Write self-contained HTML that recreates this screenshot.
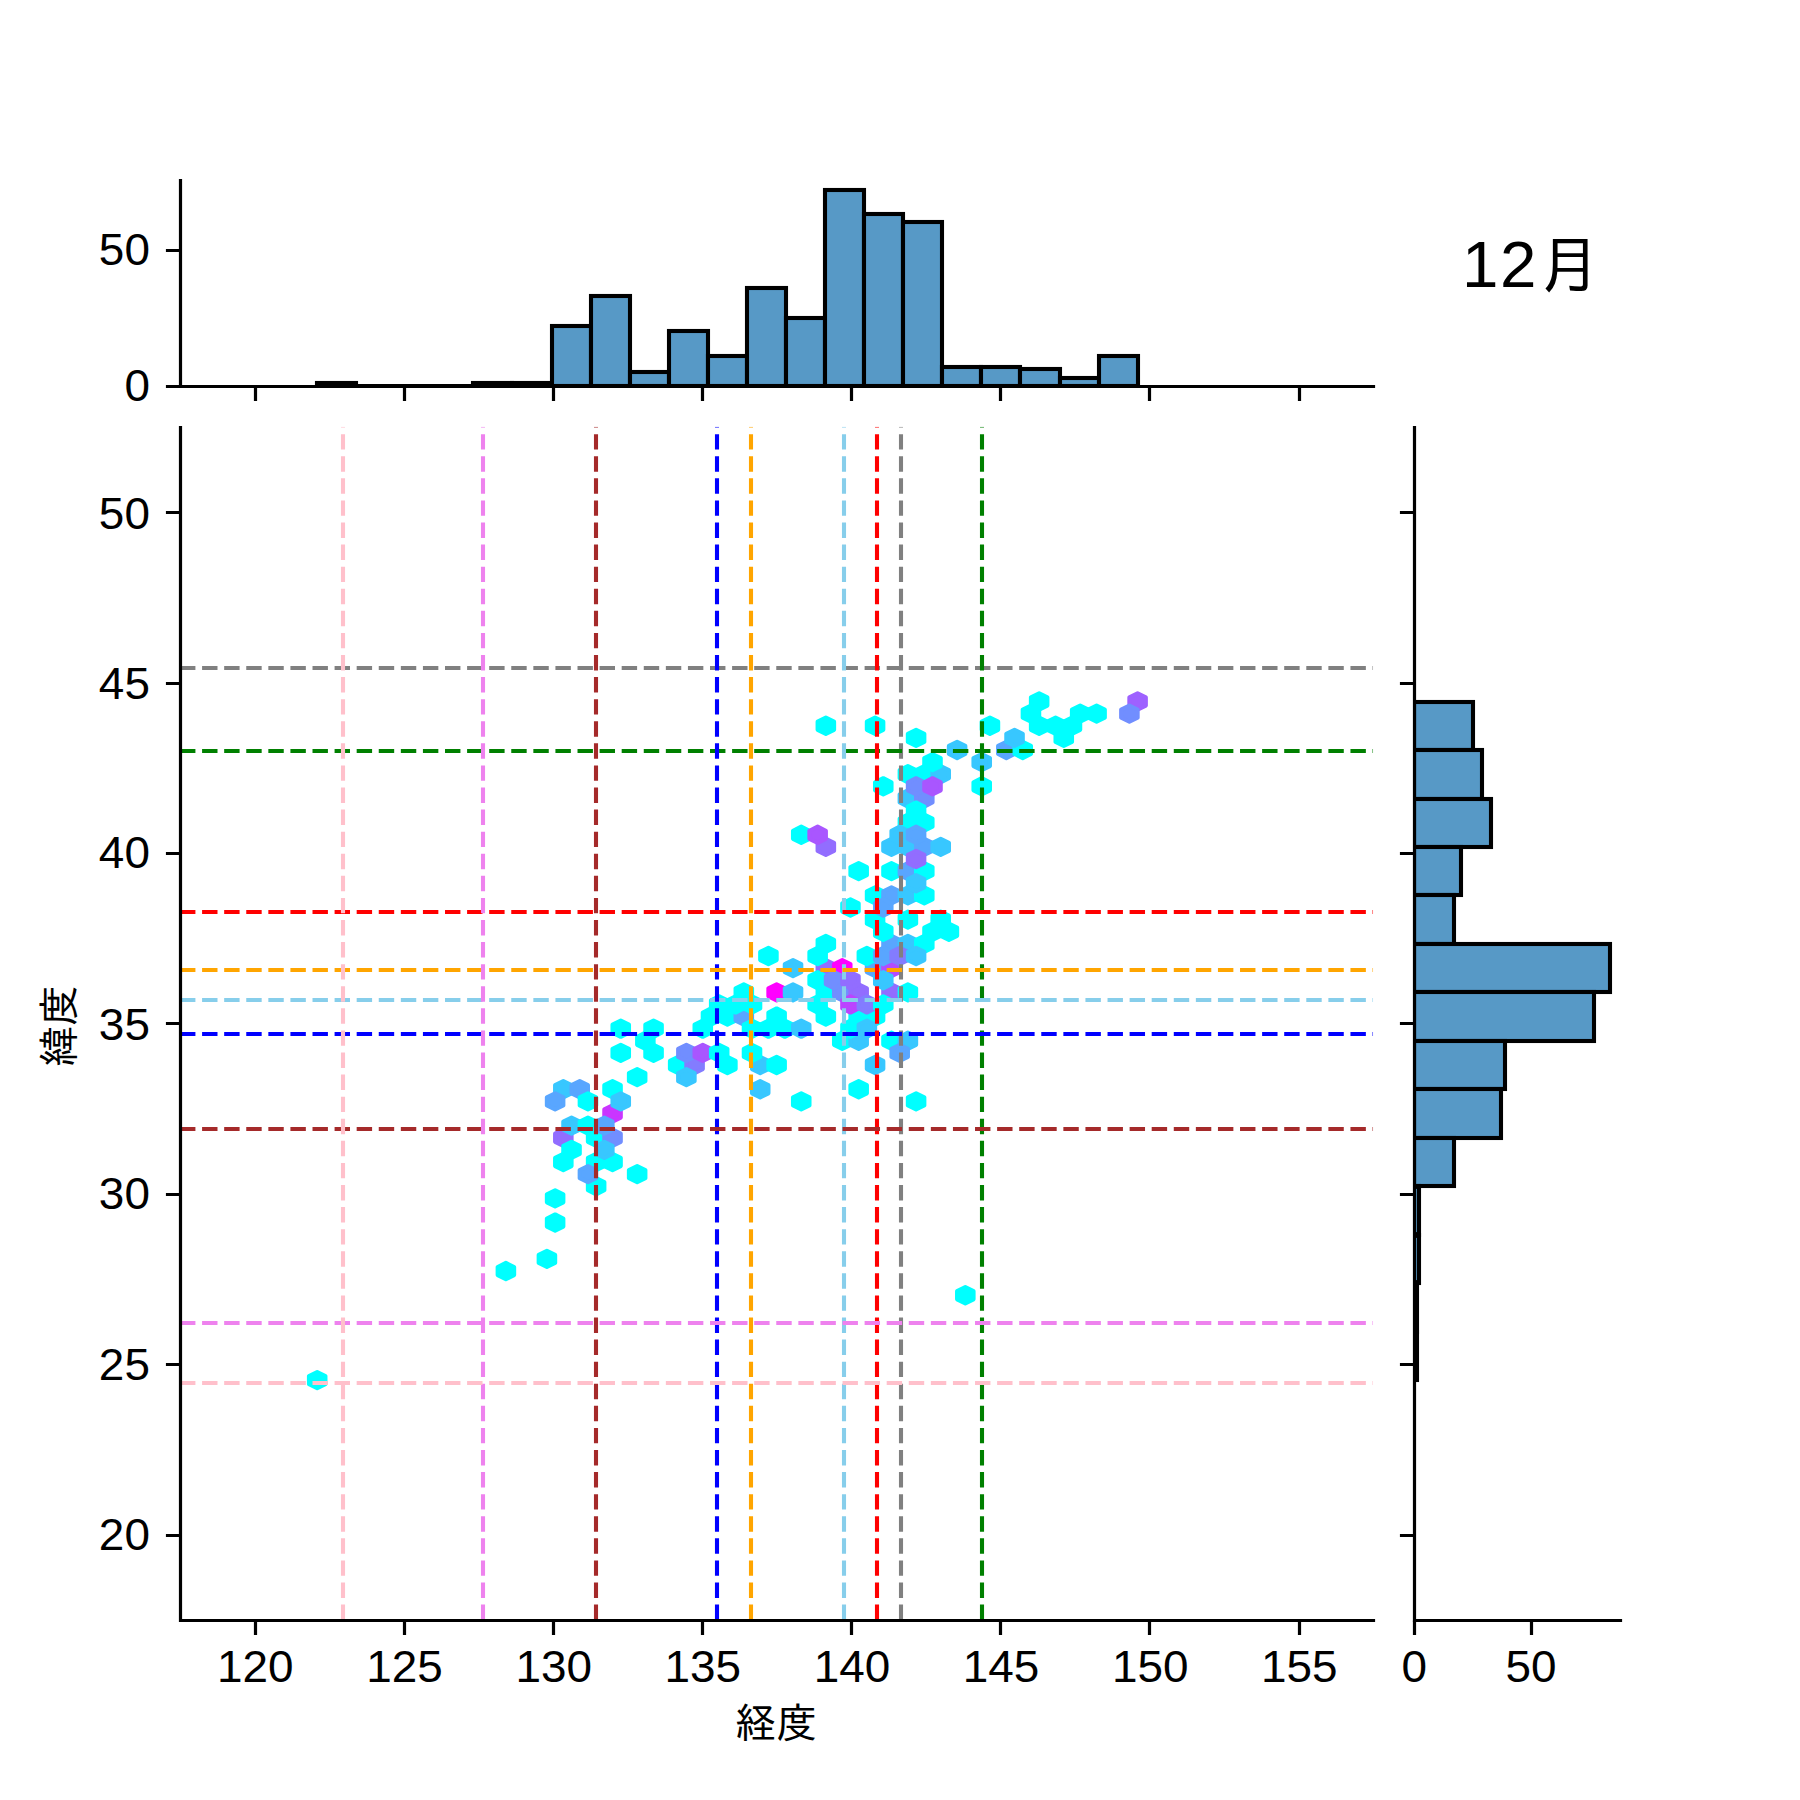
<!DOCTYPE html>
<html lang="ja"><head><meta charset="utf-8"><title>12月</title>
<style>html,body{margin:0;padding:0;background:#fff}svg{display:block}.n{font-family:"Liberation Sans",sans-serif;font-size:43.7px;fill:#000}.j{font-family:"Liberation Sans","IPAGothic","Noto Sans CJK JP",sans-serif;font-size:41.67px;fill:#000}.s{stroke:#000;stroke-width:3.200;fill:none;stroke-linecap:square}.t{stroke:#000;stroke-width:3.200;fill:none}.b{fill:#5799c6;stroke:#000;stroke-width:4.10;stroke-linejoin:miter}.d{stroke-width:4.100;stroke-dasharray:15.417 6.667;fill:none}.h{stroke-width:4.167;stroke-linejoin:round}</style></head><body>
<svg width="1800" height="1800" viewBox="0 0 1800 1800">
<rect width="1800" height="1800" fill="#fff"/>
<g class="h" clip-path="url(#cj)">
<path d="M325.40 1376.06L325.40 1384.14L317.20 1388.18L309.00 1384.14L309.00 1376.06L317.20 1372.02Z" fill="#00ffff" stroke="#00ffff"/>
<path d="M555.12 1254.88L555.12 1262.96L546.91 1267.00L538.71 1262.96L538.71 1254.88L546.91 1250.84Z" fill="#00ffff" stroke="#00ffff"/>
<path d="M571.52 1157.94L571.52 1166.02L563.32 1170.05L555.12 1166.02L555.12 1157.94L563.32 1153.90Z" fill="#00ffff" stroke="#00ffff"/>
<path d="M571.52 1133.70L571.52 1141.78L563.32 1145.82L555.12 1141.78L555.12 1133.70L563.32 1129.66Z" fill="#926dff" stroke="#926dff"/>
<path d="M571.52 1085.23L571.52 1093.31L563.32 1097.35L555.12 1093.31L555.12 1085.23L563.32 1081.19Z" fill="#38c7ff" stroke="#38c7ff"/>
<path d="M587.93 1085.23L587.93 1093.31L579.73 1097.35L571.52 1093.31L571.52 1085.23L579.73 1081.19Z" fill="#59a6ff" stroke="#59a6ff"/>
<path d="M604.34 1182.17L604.34 1190.25L596.14 1194.29L587.93 1190.25L587.93 1182.17L596.14 1178.13Z" fill="#00ffff" stroke="#00ffff"/>
<path d="M604.34 1157.94L604.34 1166.02L596.14 1170.05L587.93 1166.02L587.93 1157.94L596.14 1153.90Z" fill="#00ffff" stroke="#00ffff"/>
<path d="M604.34 1133.70L604.34 1141.78L596.14 1145.82L587.93 1141.78L587.93 1133.70L596.14 1129.66Z" fill="#00ffff" stroke="#00ffff"/>
<path d="M620.75 1157.94L620.75 1166.02L612.54 1170.05L604.34 1166.02L604.34 1157.94L612.54 1153.90Z" fill="#00ffff" stroke="#00ffff"/>
<path d="M620.75 1133.70L620.75 1141.78L612.54 1145.82L604.34 1141.78L604.34 1133.70L612.54 1129.66Z" fill="#718eff" stroke="#718eff"/>
<path d="M620.75 1109.46L620.75 1117.54L612.54 1121.58L604.34 1117.54L604.34 1109.46L612.54 1105.43Z" fill="#ca35ff" stroke="#ca35ff"/>
<path d="M620.75 1085.23L620.75 1093.31L612.54 1097.35L604.34 1093.31L604.34 1085.23L612.54 1081.19Z" fill="#00ffff" stroke="#00ffff"/>
<path d="M653.56 1036.76L653.56 1044.84L645.36 1048.87L637.16 1044.84L637.16 1036.76L645.36 1032.72Z" fill="#00ffff" stroke="#00ffff"/>
<path d="M686.38 1060.99L686.38 1069.07L678.18 1073.11L669.97 1069.07L669.97 1060.99L678.18 1056.95Z" fill="#00ffff" stroke="#00ffff"/>
<path d="M702.79 1060.99L702.79 1069.07L694.58 1073.11L686.38 1069.07L686.38 1060.99L694.58 1056.95Z" fill="#837cff" stroke="#837cff"/>
<path d="M719.20 1012.52L719.20 1020.60L710.99 1024.64L702.79 1020.60L702.79 1012.52L710.99 1008.48Z" fill="#00ffff" stroke="#00ffff"/>
<path d="M735.60 1060.99L735.60 1069.07L727.40 1073.11L719.20 1069.07L719.20 1060.99L727.40 1056.95Z" fill="#00ffff" stroke="#00ffff"/>
<path d="M735.60 1012.52L735.60 1020.60L727.40 1024.64L719.20 1020.60L719.20 1012.52L727.40 1008.48Z" fill="#00ffff" stroke="#00ffff"/>
<path d="M752.01 1012.52L752.01 1020.60L743.81 1024.64L735.60 1020.60L735.60 1012.52L743.81 1008.48Z" fill="#59a6ff" stroke="#59a6ff"/>
<path d="M752.01 988.28L752.01 996.36L743.81 1000.40L735.60 996.36L735.60 988.28L743.81 984.25Z" fill="#00ffff" stroke="#00ffff"/>
<path d="M768.42 1085.23L768.42 1093.31L760.22 1097.35L752.01 1093.31L752.01 1085.23L760.22 1081.19Z" fill="#38c7ff" stroke="#38c7ff"/>
<path d="M768.42 1060.99L768.42 1069.07L760.22 1073.11L752.01 1069.07L752.01 1060.99L760.22 1056.95Z" fill="#38c7ff" stroke="#38c7ff"/>
<path d="M784.83 1060.99L784.83 1069.07L776.62 1073.11L768.42 1069.07L768.42 1060.99L776.62 1056.95Z" fill="#00ffff" stroke="#00ffff"/>
<path d="M784.83 1012.52L784.83 1020.60L776.62 1024.64L768.42 1020.60L768.42 1012.52L776.62 1008.48Z" fill="#00ffff" stroke="#00ffff"/>
<path d="M784.83 988.28L784.83 996.36L776.62 1000.40L768.42 996.36L768.42 988.28L776.62 984.25Z" fill="#ff00ff" stroke="#ff00ff"/>
<path d="M801.24 988.28L801.24 996.36L793.03 1000.40L784.83 996.36L784.83 988.28L793.03 984.25Z" fill="#38c7ff" stroke="#38c7ff"/>
<path d="M801.24 964.05L801.24 972.13L793.03 976.17L784.83 972.13L784.83 964.05L793.03 960.01Z" fill="#38c7ff" stroke="#38c7ff"/>
<path d="M834.05 1012.52L834.05 1020.60L825.85 1024.64L817.64 1020.60L817.64 1012.52L825.85 1008.48Z" fill="#00ffff" stroke="#00ffff"/>
<path d="M834.05 988.28L834.05 996.36L825.85 1000.40L817.64 996.36L817.64 988.28L825.85 984.25Z" fill="#00ffff" stroke="#00ffff"/>
<path d="M834.05 964.05L834.05 972.13L825.85 976.17L817.64 972.13L817.64 964.05L825.85 960.01Z" fill="#926dff" stroke="#926dff"/>
<path d="M834.05 939.81L834.05 947.89L825.85 951.93L817.64 947.89L817.64 939.81L825.85 935.77Z" fill="#00ffff" stroke="#00ffff"/>
<path d="M834.05 842.87L834.05 850.95L825.85 854.99L817.64 850.95L817.64 842.87L825.85 838.83Z" fill="#926dff" stroke="#926dff"/>
<path d="M834.05 721.69L834.05 729.77L825.85 733.81L817.64 729.77L817.64 721.69L825.85 717.65Z" fill="#00ffff" stroke="#00ffff"/>
<path d="M850.46 1036.76L850.46 1044.84L842.26 1048.87L834.05 1044.84L834.05 1036.76L842.26 1032.72Z" fill="#00ffff" stroke="#00ffff"/>
<path d="M850.46 988.28L850.46 996.36L842.26 1000.40L834.05 996.36L834.05 988.28L842.26 984.25Z" fill="#718eff" stroke="#718eff"/>
<path d="M850.46 964.05L850.46 972.13L842.26 976.17L834.05 972.13L834.05 964.05L842.26 960.01Z" fill="#ff00ff" stroke="#ff00ff"/>
<path d="M866.87 1085.23L866.87 1093.31L858.66 1097.35L850.46 1093.31L850.46 1085.23L858.66 1081.19Z" fill="#00ffff" stroke="#00ffff"/>
<path d="M866.87 1036.76L866.87 1044.84L858.66 1048.87L850.46 1044.84L850.46 1036.76L858.66 1032.72Z" fill="#38c7ff" stroke="#38c7ff"/>
<path d="M866.87 1012.52L866.87 1020.60L858.66 1024.64L850.46 1020.60L850.46 1012.52L858.66 1008.48Z" fill="#00ffff" stroke="#00ffff"/>
<path d="M866.87 988.28L866.87 996.36L858.66 1000.40L850.46 996.36L850.46 988.28L858.66 984.25Z" fill="#926dff" stroke="#926dff"/>
<path d="M866.87 867.10L866.87 875.18L858.66 879.22L850.46 875.18L850.46 867.10L858.66 863.07Z" fill="#00ffff" stroke="#00ffff"/>
<path d="M883.28 1060.99L883.28 1069.07L875.07 1073.11L866.87 1069.07L866.87 1060.99L875.07 1056.95Z" fill="#38c7ff" stroke="#38c7ff"/>
<path d="M883.28 1012.52L883.28 1020.60L875.07 1024.64L866.87 1020.60L866.87 1012.52L875.07 1008.48Z" fill="#00ffff" stroke="#00ffff"/>
<path d="M883.28 964.05L883.28 972.13L875.07 976.17L866.87 972.13L866.87 964.05L875.07 960.01Z" fill="#59a6ff" stroke="#59a6ff"/>
<path d="M883.28 915.58L883.28 923.66L875.07 927.69L866.87 923.66L866.87 915.58L875.07 911.54Z" fill="#00ffff" stroke="#00ffff"/>
<path d="M883.28 891.34L883.28 899.42L875.07 903.46L866.87 899.42L866.87 891.34L875.07 887.30Z" fill="#00ffff" stroke="#00ffff"/>
<path d="M883.28 721.69L883.28 729.77L875.07 733.81L866.87 729.77L866.87 721.69L875.07 717.65Z" fill="#00ffff" stroke="#00ffff"/>
<path d="M899.68 1036.76L899.68 1044.84L891.48 1048.87L883.28 1044.84L883.28 1036.76L891.48 1032.72Z" fill="#00ffff" stroke="#00ffff"/>
<path d="M899.68 988.28L899.68 996.36L891.48 1000.40L883.28 996.36L883.28 988.28L891.48 984.25Z" fill="#926dff" stroke="#926dff"/>
<path d="M899.68 964.05L899.68 972.13L891.48 976.17L883.28 972.13L883.28 964.05L891.48 960.01Z" fill="#b34cff" stroke="#b34cff"/>
<path d="M899.68 939.81L899.68 947.89L891.48 951.93L883.28 947.89L883.28 939.81L891.48 935.77Z" fill="#59a6ff" stroke="#59a6ff"/>
<path d="M899.68 891.34L899.68 899.42L891.48 903.46L883.28 899.42L883.28 891.34L891.48 887.30Z" fill="#59a6ff" stroke="#59a6ff"/>
<path d="M899.68 867.10L899.68 875.18L891.48 879.22L883.28 875.18L883.28 867.10L891.48 863.07Z" fill="#00ffff" stroke="#00ffff"/>
<path d="M899.68 842.87L899.68 850.95L891.48 854.99L883.28 850.95L883.28 842.87L891.48 838.83Z" fill="#38c7ff" stroke="#38c7ff"/>
<path d="M916.09 1036.76L916.09 1044.84L907.89 1048.87L899.68 1044.84L899.68 1036.76L907.89 1032.72Z" fill="#38c7ff" stroke="#38c7ff"/>
<path d="M916.09 988.28L916.09 996.36L907.89 1000.40L899.68 996.36L899.68 988.28L907.89 984.25Z" fill="#00ffff" stroke="#00ffff"/>
<path d="M916.09 939.81L916.09 947.89L907.89 951.93L899.68 947.89L899.68 939.81L907.89 935.77Z" fill="#38c7ff" stroke="#38c7ff"/>
<path d="M916.09 915.58L916.09 923.66L907.89 927.69L899.68 923.66L899.68 915.58L907.89 911.54Z" fill="#00ffff" stroke="#00ffff"/>
<path d="M916.09 891.34L916.09 899.42L907.89 903.46L899.68 899.42L899.68 891.34L907.89 887.30Z" fill="#38c7ff" stroke="#38c7ff"/>
<path d="M916.09 867.10L916.09 875.18L907.89 879.22L899.68 875.18L899.68 867.10L907.89 863.07Z" fill="#59a6ff" stroke="#59a6ff"/>
<path d="M916.09 842.87L916.09 850.95L907.89 854.99L899.68 850.95L899.68 842.87L907.89 838.83Z" fill="#38c7ff" stroke="#38c7ff"/>
<path d="M916.09 818.63L916.09 826.71L907.89 830.75L899.68 826.71L899.68 818.63L907.89 814.59Z" fill="#00ffff" stroke="#00ffff"/>
<path d="M916.09 794.40L916.09 802.48L907.89 806.51L899.68 802.48L899.68 794.40L907.89 790.36Z" fill="#38c7ff" stroke="#38c7ff"/>
<path d="M916.09 770.16L916.09 778.24L907.89 782.28L899.68 778.24L899.68 770.16L907.89 766.12Z" fill="#00ffff" stroke="#00ffff"/>
<path d="M932.50 939.81L932.50 947.89L924.30 951.93L916.09 947.89L916.09 939.81L924.30 935.77Z" fill="#00ffff" stroke="#00ffff"/>
<path d="M932.50 891.34L932.50 899.42L924.30 903.46L916.09 899.42L916.09 891.34L924.30 887.30Z" fill="#00ffff" stroke="#00ffff"/>
<path d="M932.50 867.10L932.50 875.18L924.30 879.22L916.09 875.18L916.09 867.10L924.30 863.07Z" fill="#00ffff" stroke="#00ffff"/>
<path d="M932.50 842.87L932.50 850.95L924.30 854.99L916.09 850.95L916.09 842.87L924.30 838.83Z" fill="#59a6ff" stroke="#59a6ff"/>
<path d="M932.50 818.63L932.50 826.71L924.30 830.75L916.09 826.71L916.09 818.63L924.30 814.59Z" fill="#00ffff" stroke="#00ffff"/>
<path d="M932.50 794.40L932.50 802.48L924.30 806.51L916.09 802.48L916.09 794.40L924.30 790.36Z" fill="#718eff" stroke="#718eff"/>
<path d="M932.50 770.16L932.50 778.24L924.30 782.28L916.09 778.24L916.09 770.16L924.30 766.12Z" fill="#00ffff" stroke="#00ffff"/>
<path d="M948.91 915.58L948.91 923.66L940.70 927.69L932.50 923.66L932.50 915.58L940.70 911.54Z" fill="#00ffff" stroke="#00ffff"/>
<path d="M948.91 842.87L948.91 850.95L940.70 854.99L932.50 850.95L932.50 842.87L940.70 838.83Z" fill="#38c7ff" stroke="#38c7ff"/>
<path d="M948.91 770.16L948.91 778.24L940.70 782.28L932.50 778.24L932.50 770.16L940.70 766.12Z" fill="#38c7ff" stroke="#38c7ff"/>
<path d="M965.32 745.92L965.32 754.00L957.11 758.04L948.91 754.00L948.91 745.92L957.11 741.89Z" fill="#38c7ff" stroke="#38c7ff"/>
<path d="M998.13 721.69L998.13 729.77L989.93 733.81L981.72 729.77L981.72 721.69L989.93 717.65Z" fill="#00ffff" stroke="#00ffff"/>
<path d="M1014.54 745.92L1014.54 754.00L1006.34 758.04L998.13 754.00L998.13 745.92L1006.34 741.89Z" fill="#59a6ff" stroke="#59a6ff"/>
<path d="M1030.95 745.92L1030.95 754.00L1022.74 758.04L1014.54 754.00L1014.54 745.92L1022.74 741.89Z" fill="#00ffff" stroke="#00ffff"/>
<path d="M1047.36 721.69L1047.36 729.77L1039.15 733.81L1030.95 729.77L1030.95 721.69L1039.15 717.65Z" fill="#00ffff" stroke="#00ffff"/>
<path d="M1047.36 697.45L1047.36 705.53L1039.15 709.57L1030.95 705.53L1030.95 697.45L1039.15 693.41Z" fill="#00ffff" stroke="#00ffff"/>
<path d="M1063.76 721.69L1063.76 729.77L1055.56 733.81L1047.36 729.77L1047.36 721.69L1055.56 717.65Z" fill="#00ffff" stroke="#00ffff"/>
<path d="M1080.17 721.69L1080.17 729.77L1071.97 733.81L1063.76 729.77L1063.76 721.69L1071.97 717.65Z" fill="#00ffff" stroke="#00ffff"/>
<path d="M1145.80 697.45L1145.80 705.53L1137.60 709.57L1129.40 705.53L1129.40 697.45L1137.60 693.41Z" fill="#9e61ff" stroke="#9e61ff"/>
<path d="M514.10 1267.00L514.10 1275.08L505.89 1279.12L497.69 1275.08L497.69 1267.00L505.89 1262.96Z" fill="#00ffff" stroke="#00ffff"/>
<path d="M563.32 1218.53L563.32 1226.61L555.12 1230.64L546.91 1226.61L546.91 1218.53L555.12 1214.49Z" fill="#00ffff" stroke="#00ffff"/>
<path d="M563.32 1194.29L563.32 1202.37L555.12 1206.41L546.91 1202.37L546.91 1194.29L555.12 1190.25Z" fill="#00ffff" stroke="#00ffff"/>
<path d="M563.32 1097.35L563.32 1105.43L555.12 1109.46L546.91 1105.43L546.91 1097.35L555.12 1093.31Z" fill="#59a6ff" stroke="#59a6ff"/>
<path d="M579.73 1145.82L579.73 1153.90L571.52 1157.94L563.32 1153.90L563.32 1145.82L571.52 1141.78Z" fill="#00ffff" stroke="#00ffff"/>
<path d="M579.73 1121.58L579.73 1129.66L571.52 1133.70L563.32 1129.66L563.32 1121.58L571.52 1117.54Z" fill="#38c7ff" stroke="#38c7ff"/>
<path d="M596.14 1170.05L596.14 1178.13L587.93 1182.17L579.73 1178.13L579.73 1170.05L587.93 1166.02Z" fill="#59a6ff" stroke="#59a6ff"/>
<path d="M596.14 1121.58L596.14 1129.66L587.93 1133.70L579.73 1129.66L579.73 1121.58L587.93 1117.54Z" fill="#00ffff" stroke="#00ffff"/>
<path d="M596.14 1097.35L596.14 1105.43L587.93 1109.46L579.73 1105.43L579.73 1097.35L587.93 1093.31Z" fill="#00ffff" stroke="#00ffff"/>
<path d="M612.54 1145.82L612.54 1153.90L604.34 1157.94L596.14 1153.90L596.14 1145.82L604.34 1141.78Z" fill="#38c7ff" stroke="#38c7ff"/>
<path d="M612.54 1121.58L612.54 1129.66L604.34 1133.70L596.14 1129.66L596.14 1121.58L604.34 1117.54Z" fill="#59a6ff" stroke="#59a6ff"/>
<path d="M628.95 1097.35L628.95 1105.43L620.75 1109.46L612.54 1105.43L612.54 1097.35L620.75 1093.31Z" fill="#38c7ff" stroke="#38c7ff"/>
<path d="M628.95 1048.87L628.95 1056.95L620.75 1060.99L612.54 1056.95L612.54 1048.87L620.75 1044.84Z" fill="#00ffff" stroke="#00ffff"/>
<path d="M628.95 1024.64L628.95 1032.72L620.75 1036.76L612.54 1032.72L612.54 1024.64L620.75 1020.60Z" fill="#00ffff" stroke="#00ffff"/>
<path d="M645.36 1170.05L645.36 1178.13L637.16 1182.17L628.95 1178.13L628.95 1170.05L637.16 1166.02Z" fill="#00ffff" stroke="#00ffff"/>
<path d="M645.36 1073.11L645.36 1081.19L637.16 1085.23L628.95 1081.19L628.95 1073.11L637.16 1069.07Z" fill="#00ffff" stroke="#00ffff"/>
<path d="M661.77 1048.87L661.77 1056.95L653.56 1060.99L645.36 1056.95L645.36 1048.87L653.56 1044.84Z" fill="#00ffff" stroke="#00ffff"/>
<path d="M661.77 1024.64L661.77 1032.72L653.56 1036.76L645.36 1032.72L645.36 1024.64L653.56 1020.60Z" fill="#00ffff" stroke="#00ffff"/>
<path d="M694.58 1073.11L694.58 1081.19L686.38 1085.23L678.18 1081.19L678.18 1073.11L686.38 1069.07Z" fill="#38c7ff" stroke="#38c7ff"/>
<path d="M694.58 1048.87L694.58 1056.95L686.38 1060.99L678.18 1056.95L678.18 1048.87L686.38 1044.84Z" fill="#718eff" stroke="#718eff"/>
<path d="M710.99 1048.87L710.99 1056.95L702.79 1060.99L694.58 1056.95L694.58 1048.87L702.79 1044.84Z" fill="#a956ff" stroke="#a956ff"/>
<path d="M710.99 1024.64L710.99 1032.72L702.79 1036.76L694.58 1032.72L694.58 1024.64L702.79 1020.60Z" fill="#00ffff" stroke="#00ffff"/>
<path d="M727.40 1048.87L727.40 1056.95L719.20 1060.99L710.99 1056.95L710.99 1048.87L719.20 1044.84Z" fill="#00ffff" stroke="#00ffff"/>
<path d="M727.40 1000.40L727.40 1008.48L719.20 1012.52L710.99 1008.48L710.99 1000.40L719.20 996.36Z" fill="#00ffff" stroke="#00ffff"/>
<path d="M743.81 1000.40L743.81 1008.48L735.60 1012.52L727.40 1008.48L727.40 1000.40L735.60 996.36Z" fill="#00ffff" stroke="#00ffff"/>
<path d="M760.22 1048.87L760.22 1056.95L752.01 1060.99L743.81 1056.95L743.81 1048.87L752.01 1044.84Z" fill="#00ffff" stroke="#00ffff"/>
<path d="M760.22 1024.64L760.22 1032.72L752.01 1036.76L743.81 1032.72L743.81 1024.64L752.01 1020.60Z" fill="#00ffff" stroke="#00ffff"/>
<path d="M760.22 1000.40L760.22 1008.48L752.01 1012.52L743.81 1008.48L743.81 1000.40L752.01 996.36Z" fill="#00ffff" stroke="#00ffff"/>
<path d="M776.62 1024.64L776.62 1032.72L768.42 1036.76L760.22 1032.72L760.22 1024.64L768.42 1020.60Z" fill="#00ffff" stroke="#00ffff"/>
<path d="M776.62 951.93L776.62 960.01L768.42 964.05L760.22 960.01L760.22 951.93L768.42 947.89Z" fill="#00ffff" stroke="#00ffff"/>
<path d="M793.03 1024.64L793.03 1032.72L784.83 1036.76L776.62 1032.72L776.62 1024.64L784.83 1020.60Z" fill="#00ffff" stroke="#00ffff"/>
<path d="M809.44 1097.35L809.44 1105.43L801.24 1109.46L793.03 1105.43L793.03 1097.35L801.24 1093.31Z" fill="#00ffff" stroke="#00ffff"/>
<path d="M809.44 1024.64L809.44 1032.72L801.24 1036.76L793.03 1032.72L793.03 1024.64L801.24 1020.60Z" fill="#38c7ff" stroke="#38c7ff"/>
<path d="M809.44 830.75L809.44 838.83L801.24 842.87L793.03 838.83L793.03 830.75L801.24 826.71Z" fill="#00ffff" stroke="#00ffff"/>
<path d="M825.85 1000.40L825.85 1008.48L817.64 1012.52L809.44 1008.48L809.44 1000.40L817.64 996.36Z" fill="#00ffff" stroke="#00ffff"/>
<path d="M825.85 976.17L825.85 984.25L817.64 988.28L809.44 984.25L809.44 976.17L817.64 972.13Z" fill="#00ffff" stroke="#00ffff"/>
<path d="M825.85 951.93L825.85 960.01L817.64 964.05L809.44 960.01L809.44 951.93L817.64 947.89Z" fill="#00ffff" stroke="#00ffff"/>
<path d="M825.85 830.75L825.85 838.83L817.64 842.87L809.44 838.83L809.44 830.75L817.64 826.71Z" fill="#a956ff" stroke="#a956ff"/>
<path d="M842.26 976.17L842.26 984.25L834.05 988.28L825.85 984.25L825.85 976.17L834.05 972.13Z" fill="#718eff" stroke="#718eff"/>
<path d="M858.66 1024.64L858.66 1032.72L850.46 1036.76L842.26 1032.72L842.26 1024.64L850.46 1020.60Z" fill="#00ffff" stroke="#00ffff"/>
<path d="M858.66 1000.40L858.66 1008.48L850.46 1012.52L842.26 1008.48L842.26 1000.40L850.46 996.36Z" fill="#bb44ff" stroke="#bb44ff"/>
<path d="M858.66 976.17L858.66 984.25L850.46 988.28L842.26 984.25L842.26 976.17L850.46 972.13Z" fill="#926dff" stroke="#926dff"/>
<path d="M858.66 903.46L858.66 911.54L850.46 915.58L842.26 911.54L842.26 903.46L850.46 899.42Z" fill="#00ffff" stroke="#00ffff"/>
<path d="M875.07 1024.64L875.07 1032.72L866.87 1036.76L858.66 1032.72L858.66 1024.64L866.87 1020.60Z" fill="#38c7ff" stroke="#38c7ff"/>
<path d="M875.07 1000.40L875.07 1008.48L866.87 1012.52L858.66 1008.48L858.66 1000.40L866.87 996.36Z" fill="#837cff" stroke="#837cff"/>
<path d="M875.07 951.93L875.07 960.01L866.87 964.05L858.66 960.01L858.66 951.93L866.87 947.89Z" fill="#00ffff" stroke="#00ffff"/>
<path d="M891.48 1000.40L891.48 1008.48L883.28 1012.52L875.07 1008.48L875.07 1000.40L883.28 996.36Z" fill="#00ffff" stroke="#00ffff"/>
<path d="M891.48 976.17L891.48 984.25L883.28 988.28L875.07 984.25L875.07 976.17L883.28 972.13Z" fill="#38c7ff" stroke="#38c7ff"/>
<path d="M891.48 951.93L891.48 960.01L883.28 964.05L875.07 960.01L875.07 951.93L883.28 947.89Z" fill="#59a6ff" stroke="#59a6ff"/>
<path d="M891.48 927.69L891.48 935.77L883.28 939.81L875.07 935.77L875.07 927.69L883.28 923.66Z" fill="#00ffff" stroke="#00ffff"/>
<path d="M891.48 903.46L891.48 911.54L883.28 915.58L875.07 911.54L875.07 903.46L883.28 899.42Z" fill="#59a6ff" stroke="#59a6ff"/>
<path d="M891.48 782.28L891.48 790.36L883.28 794.40L875.07 790.36L875.07 782.28L883.28 778.24Z" fill="#00ffff" stroke="#00ffff"/>
<path d="M907.89 1048.87L907.89 1056.95L899.68 1060.99L891.48 1056.95L891.48 1048.87L899.68 1044.84Z" fill="#59a6ff" stroke="#59a6ff"/>
<path d="M907.89 951.93L907.89 960.01L899.68 964.05L891.48 960.01L891.48 951.93L899.68 947.89Z" fill="#837cff" stroke="#837cff"/>
<path d="M907.89 830.75L907.89 838.83L899.68 842.87L891.48 838.83L891.48 830.75L899.68 826.71Z" fill="#38c7ff" stroke="#38c7ff"/>
<path d="M924.30 1097.35L924.30 1105.43L916.09 1109.46L907.89 1105.43L907.89 1097.35L916.09 1093.31Z" fill="#00ffff" stroke="#00ffff"/>
<path d="M924.30 951.93L924.30 960.01L916.09 964.05L907.89 960.01L907.89 951.93L916.09 947.89Z" fill="#38c7ff" stroke="#38c7ff"/>
<path d="M924.30 879.22L924.30 887.30L916.09 891.34L907.89 887.30L907.89 879.22L916.09 875.18Z" fill="#38c7ff" stroke="#38c7ff"/>
<path d="M924.30 854.99L924.30 863.07L916.09 867.10L907.89 863.07L907.89 854.99L916.09 850.95Z" fill="#926dff" stroke="#926dff"/>
<path d="M924.30 830.75L924.30 838.83L916.09 842.87L907.89 838.83L907.89 830.75L916.09 826.71Z" fill="#59a6ff" stroke="#59a6ff"/>
<path d="M924.30 806.51L924.30 814.59L916.09 818.63L907.89 814.59L907.89 806.51L916.09 802.48Z" fill="#00ffff" stroke="#00ffff"/>
<path d="M924.30 782.28L924.30 790.36L916.09 794.40L907.89 790.36L907.89 782.28L916.09 778.24Z" fill="#718eff" stroke="#718eff"/>
<path d="M924.30 733.81L924.30 741.89L916.09 745.92L907.89 741.89L907.89 733.81L916.09 729.77Z" fill="#00ffff" stroke="#00ffff"/>
<path d="M940.70 927.69L940.70 935.77L932.50 939.81L924.30 935.77L924.30 927.69L932.50 923.66Z" fill="#00ffff" stroke="#00ffff"/>
<path d="M940.70 782.28L940.70 790.36L932.50 794.40L924.30 790.36L924.30 782.28L932.50 778.24Z" fill="#a956ff" stroke="#a956ff"/>
<path d="M940.70 758.04L940.70 766.12L932.50 770.16L924.30 766.12L924.30 758.04L932.50 754.00Z" fill="#00ffff" stroke="#00ffff"/>
<path d="M957.11 927.69L957.11 935.77L948.91 939.81L940.70 935.77L940.70 927.69L948.91 923.66Z" fill="#00ffff" stroke="#00ffff"/>
<path d="M973.52 1291.23L973.52 1299.31L965.32 1303.35L957.11 1299.31L957.11 1291.23L965.32 1287.20Z" fill="#00ffff" stroke="#00ffff"/>
<path d="M989.93 782.28L989.93 790.36L981.72 794.40L973.52 790.36L973.52 782.28L981.72 778.24Z" fill="#00ffff" stroke="#00ffff"/>
<path d="M989.93 758.04L989.93 766.12L981.72 770.16L973.52 766.12L973.52 758.04L981.72 754.00Z" fill="#38c7ff" stroke="#38c7ff"/>
<path d="M1022.74 733.81L1022.74 741.89L1014.54 745.92L1006.34 741.89L1006.34 733.81L1014.54 729.77Z" fill="#38c7ff" stroke="#38c7ff"/>
<path d="M1039.15 709.57L1039.15 717.65L1030.95 721.69L1022.74 717.65L1022.74 709.57L1030.95 705.53Z" fill="#00ffff" stroke="#00ffff"/>
<path d="M1071.97 733.81L1071.97 741.89L1063.76 745.92L1055.56 741.89L1055.56 733.81L1063.76 729.77Z" fill="#00ffff" stroke="#00ffff"/>
<path d="M1088.38 709.57L1088.38 717.65L1080.17 721.69L1071.97 717.65L1071.97 709.57L1080.17 705.53Z" fill="#00ffff" stroke="#00ffff"/>
<path d="M1104.78 709.57L1104.78 717.65L1096.58 721.69L1088.38 717.65L1088.38 709.57L1096.58 705.53Z" fill="#00ffff" stroke="#00ffff"/>
<path d="M1137.60 709.57L1137.60 717.65L1129.40 721.69L1121.19 717.65L1121.19 709.57L1129.40 705.53Z" fill="#718eff" stroke="#718eff"/>
</g>
<g class="d" clip-path="url(#cj)">
<path d="M901.00 1620.00V426.86" stroke="#808080"/>
<path d="M180.00 668.00H1373.14" stroke="#808080"/>
<path d="M982.00 1620.00V426.86" stroke="#008000"/>
<path d="M180.00 751.00H1373.14" stroke="#008000"/>
<path d="M844.00 1620.00V426.86" stroke="#87ceeb"/>
<path d="M180.00 1000.00H1373.14" stroke="#87ceeb"/>
<path d="M717.00 1620.00V426.86" stroke="#0000ff"/>
<path d="M180.00 1034.00H1373.14" stroke="#0000ff"/>
<path d="M751.00 1620.00V426.86" stroke="#ffa500"/>
<path d="M180.00 970.00H1373.14" stroke="#ffa500"/>
<path d="M877.00 1620.00V426.86" stroke="#ff0000"/>
<path d="M180.00 912.00H1373.14" stroke="#ff0000"/>
<path d="M596.00 1620.00V426.86" stroke="#a52a2a"/>
<path d="M180.00 1129.00H1373.14" stroke="#a52a2a"/>
<path d="M483.00 1620.00V426.86" stroke="#ee82ee"/>
<path d="M180.00 1323.00H1373.14" stroke="#ee82ee"/>
<path d="M343.00 1620.00V426.86" stroke="#ffc0cb"/>
<path d="M180.00 1383.00H1373.14" stroke="#ffc0cb"/>
</g>
<defs><clipPath id="ct"><rect x="180.000" y="180.000" width="1193.143" height="205.714"/></clipPath><clipPath id="cr"><rect x="1414.286" y="426.857" width="205.714" height="1193.143"/></clipPath><clipPath id="cj"><rect x="180.000" y="426.857" width="1193.143" height="1193.143"/></clipPath></defs>
<g class="b" clip-path="url(#ct)">
<rect x="317" y="383" width="39" height="3"/>
<path d="M356 386H395" stroke-linecap="square"/>
<path d="M395 386H434" stroke-linecap="square"/>
<path d="M434 386H473" stroke-linecap="square"/>
<rect x="473" y="383" width="39" height="3"/>
<rect x="512" y="383" width="40" height="3"/>
<rect x="552" y="326" width="39" height="60"/>
<rect x="591" y="296" width="39" height="90"/>
<rect x="630" y="372" width="39" height="14"/>
<rect x="669" y="331" width="39" height="55"/>
<rect x="708" y="356" width="39" height="30"/>
<rect x="747" y="288" width="39" height="98"/>
<rect x="786" y="318" width="39" height="68"/>
<rect x="825" y="190" width="39" height="196"/>
<rect x="864" y="214" width="39" height="172"/>
<rect x="903" y="222" width="39" height="164"/>
<rect x="942" y="367" width="39" height="19"/>
<rect x="981" y="367" width="39" height="19"/>
<rect x="1020" y="369" width="40" height="17"/>
<rect x="1060" y="378" width="39" height="8"/>
<rect x="1099" y="356" width="39" height="30"/>
</g>
<g class="b" clip-path="url(#cr)">
<rect x="1414" y="702" width="59" height="48"/>
<rect x="1414" y="750" width="68" height="49"/>
<rect x="1414" y="799" width="77" height="48"/>
<rect x="1414" y="847" width="47" height="48"/>
<rect x="1414" y="895" width="40" height="49"/>
<rect x="1414" y="944" width="196" height="48"/>
<rect x="1414" y="992" width="180" height="49"/>
<rect x="1414" y="1041" width="91" height="48"/>
<rect x="1414" y="1089" width="87" height="49"/>
<rect x="1414" y="1138" width="40" height="48"/>
<rect x="1414" y="1186" width="5" height="49"/>
<rect x="1414" y="1235" width="5" height="48"/>
<rect x="1414" y="1283" width="3" height="49"/>
<rect x="1414" y="1332" width="3" height="48"/>
</g>
<g class="s">
<path d="M180.50 427.50V1620.50H1373.50"/>
<path d="M180.50 180.50V386.50H1373.50"/>
<path d="M1414.50 427.50V1620.50H1620.50"/>
</g>
<g class="t">
<path d="M255.50 1620.50v14.58M255.50 386.50v14.58M404.50 1620.50v14.58M404.50 386.50v14.58M553.50 1620.50v14.58M553.50 386.50v14.58M702.50 1620.50v14.58M702.50 386.50v14.58M851.50 1620.50v14.58M851.50 386.50v14.58M1000.50 1620.50v14.58M1000.50 386.50v14.58M1149.50 1620.50v14.58M1149.50 386.50v14.58M1299.50 1620.50v14.58M1299.50 386.50v14.58M180.50 512.50h-14.58M1414.50 512.50h-14.58M180.50 683.50h-14.58M1414.50 683.50h-14.58M180.50 853.50h-14.58M1414.50 853.50h-14.58M180.50 1023.50h-14.58M1414.50 1023.50h-14.58M180.50 1194.50h-14.58M1414.50 1194.50h-14.58M180.50 1364.50h-14.58M1414.50 1364.50h-14.58M180.50 1535.50h-14.58M1414.50 1535.50h-14.58M180.50 386.50h-14.58M180.50 250.50h-14.58M1414.50 1620.50v14.58M1531.50 1620.50v14.58"/>
</g>
<g class="n" text-anchor="middle">
<text transform="translate(255.37 1682) scale(1.05 1)">120</text>
<text transform="translate(404.51 1682) scale(1.05 1)">125</text>
<text transform="translate(553.66 1682) scale(1.05 1)">130</text>
<text transform="translate(702.80 1682) scale(1.05 1)">135</text>
<text transform="translate(851.94 1682) scale(1.05 1)">140</text>
<text transform="translate(1001.09 1682) scale(1.05 1)">145</text>
<text transform="translate(1150.23 1682) scale(1.05 1)">150</text>
<text transform="translate(1299.37 1682) scale(1.05 1)">155</text>
<text transform="translate(1414.29 1682) scale(1.05 1)">0</text>
<text transform="translate(1530.90 1682) scale(1.05 1)">50</text>
</g>
<g class="n" text-anchor="end">
<text transform="translate(149.9 528.60) scale(1.05 1)">50</text>
<text transform="translate(149.9 699.10) scale(1.05 1)">45</text>
<text transform="translate(149.9 867.80) scale(1.05 1)">40</text>
<text transform="translate(149.9 1039.60) scale(1.05 1)">35</text>
<text transform="translate(149.9 1209.10) scale(1.05 1)">30</text>
<text transform="translate(149.9 1379.70) scale(1.05 1)">25</text>
<text transform="translate(149.9 1549.90) scale(1.05 1)">20</text>
<text transform="translate(149.9 401.30) scale(1.05 1)">0</text>
<text transform="translate(149.9 265.40) scale(1.05 1)">50</text>
</g>
<text class="j" x="776.4" y="1737.5" text-anchor="middle">経度</text>
<text class="j" transform="translate(74.3 1025.7) rotate(-90)" text-anchor="middle">緯度</text>
<text class="j" x="1462" y="287" style="font-size:62.5px"><tspan style="font-size:65.5px;letter-spacing:1.6px">12</tspan><tspan dy="1.2">月</tspan></text>
</svg></body></html>
